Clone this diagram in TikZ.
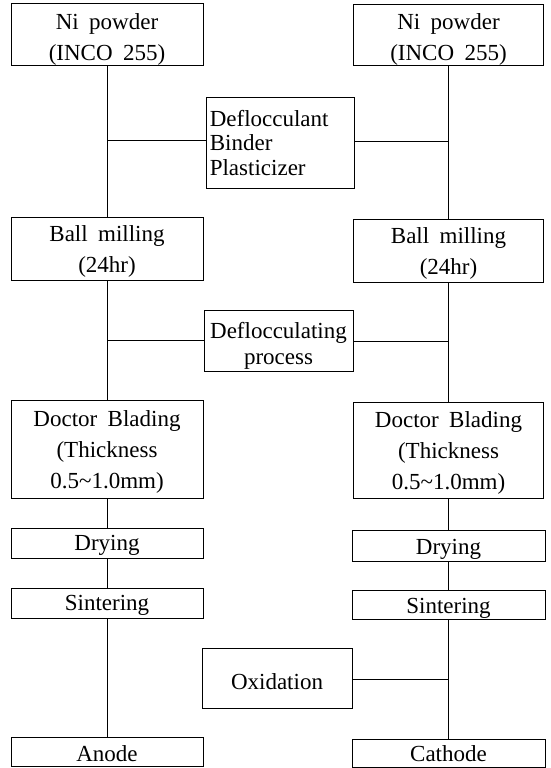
\documentclass[tikz,border=0pt]{standalone}
\usepackage{fontspec}
\setmainfont{Liberation Serif}[WordSpace={1.8,1,1}]
\begin{document}
\begin{tikzpicture}[x=1pt,y=-1pt,
  box/.style={draw, line width=0.8pt, inner sep=0pt},
  txt/.style={inner sep=0pt, align=center, font=\fontsize{23}{31}\selectfont},
  mtxt/.style={inner sep=0pt, align=center, font=\fontsize{23}{26}\selectfont},
  lw/.style={minimum width=192pt},
  rw/.style={minimum width=190pt},
  rw2/.style={minimum width=193pt},
  conn/.style={line width=0.8pt}]
\useasboundingbox (0,0) rectangle (550,768);
% left column
\node[box,lw,minimum height=62pt] (L1) at (107,34) {};
\node[txt] (L1t) at ([yshift=-5pt]L1.center) {Ni powder\\(INCO 255)};
\node[box,lw,minimum height=63pt] (L2) at (107,248.5) {};
\node[txt] (L2t) at ([yshift=-2.5pt]L2.center) {Ball milling\\(24hr)};
\node[box,lw,minimum height=98pt] (L3) at (107,449) {};
\node[txt] (L3t) at ([yshift=-3pt]L3.center) {Doctor Blading\\(Thickness\\0.5\textasciitilde 1.0mm)};
\node[box,lw,minimum height=30pt] (L4) at (107,543) {};
\node[txt] (L4t) at ([yshift=-2.5pt]L4.center) {Drying};
\node[box,lw,minimum height=30pt] (L5) at (107,603) {};
\node[txt] (L5t) at ([yshift=-2.5pt]L5.center) {Sintering};
\node[box,lw,minimum height=29pt] (L6) at (107,751.5) {};
\node[txt] (L6t) at ([yshift=-2pt]L6.center) {Anode};
% right column
\node[box,rw,minimum height=61pt] (R1) at (448.5,34.5) {};
\node[txt] (R1t) at ([yshift=-5pt]R1.center) {Ni powder\\(INCO 255)};
\node[box,rw,minimum height=63pt] (R2) at (448.5,250.5) {};
\node[txt] (R2t) at ([yshift=-2.5pt]R2.center) {Ball milling\\(24hr)};
\node[box,rw,minimum height=96pt] (R3) at (448.5,450) {};
\node[txt] (R3t) at ([yshift=-2.5pt]R3.center) {Doctor Blading\\(Thickness\\0.5\textasciitilde 1.0mm)};
\node[box,rw2,minimum height=31pt] (R4) at (448.5,545.5) {};
\node[txt] (R4t) at ([yshift=-3.5pt]R4.center) {Drying};
\node[box,rw2,minimum height=29pt] (R5) at (448.5,604.5) {};
\node[txt] (R5t) at ([yshift=-3.5pt]R5.center) {Sintering};
\node[box,rw2,minimum height=28pt] (R6) at (448.5,753) {};
\node[txt] (R6t) at ([yshift=-1pt]R6.center) {Cathode};
% middle boxes
\node[box,minimum width=148pt,minimum height=91pt] (M1) at (280,142.5) {};
\node[inner sep=0pt, align=left, text width=141pt, anchor=west,
  font=\fontsize{23}{24.5}\selectfont] (M1t) at ([xshift=4pt,yshift=-0.5pt]M1.west) {Deflocculant\\Binder\\Plasticizer};
\node[box,minimum width=149pt,minimum height=61pt] (M2) at (278.5,340.5) {};
\node[mtxt] (M2t) at ([yshift=-5pt]M2.center) {Deflocculating\\process};
\node[box,minimum width=150pt,minimum height=60pt] (M3) at (277,678) {};
\node[txt] (M3t) at ([yshift=-3.5pt]M3.center) {Oxidation};
% connectors
\draw[conn] (L1.south) -- (L2.north);
\draw[conn] (L2.south) -- (L3.north);
\draw[conn] (L3.south) -- (L4.north);
\draw[conn] (L4.south) -- (L5.north);
\draw[conn] (L5.south) -- (L6.north);
\draw[conn] (R1.south) -- (R2.north);
\draw[conn] (R2.south) -- (R3.north);
\draw[conn] (R3.south) -- (R4.north);
\draw[conn] (R4.south) -- (R5.north);
\draw[conn] (R5.south) -- (R6.north);
\draw[conn] ([yshift=2pt]M1.west) -- ([yshift=2pt]M1.west -| L1.south);
\draw[conn] ([yshift=1pt]M1.east) -- ([yshift=1pt]M1.east -| R1.south);
\draw[conn] (M2.west) -- (M2.west -| L2.south);
\draw[conn] ([yshift=-1pt]M2.east) -- ([yshift=-1pt]M2.east -| R2.south);
\draw[conn] ([yshift=-1.5pt]M3.east) -- ([yshift=-1.5pt]M3.east -| R5.south);
\end{tikzpicture}
\end{document}
